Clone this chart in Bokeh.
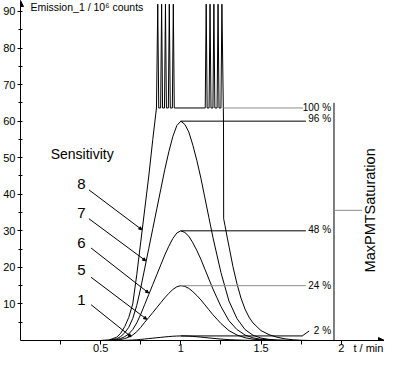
import math
from bokeh.plotting import figure
from bokeh.models import (Range1d, FixedTicker, CustomJSTickFormatter, Arrow,
                          NormalHead, ColumnDataSource)
from bokeh.core.properties import value
from bokeh.embed import file_html
from bokeh.resources import INLINE

FONT = "Liberation Sans"

# ---------------- data ----------------
t_grid = [0.50, 0.55, 0.60, 0.625, 0.65, 0.675, 0.70, 0.725, 0.75, 0.775,
          0.80, 0.825, 0.85, 0.875, 0.90, 0.925, 0.95, 0.975, 1.00, 1.025,
          1.05, 1.075, 1.10, 1.125, 1.15, 1.175, 1.20, 1.225, 1.25, 1.30,
          1.35, 1.40, 1.45, 1.50, 1.55, 1.60, 1.65, 1.70, 1.75, 1.80]

sens1 = [0, 0, 0.01, 0.02, 0.04, 0.08, 0.13, 0.2, 0.3, 0.41,
         0.53, 0.64, 0.75, 0.86, 0.98, 1.08, 1.16, 1.22, 1.25, 1.23,
         1.19, 1.12, 1.03, 0.93, 0.81, 0.7, 0.59, 0.49, 0.39, 0.23,
         0.13, 0.06, 0.03, 0.01, 0, 0, 0, 0, 0, 0]

sens5 = [0, 0.02, 0.12, 0.27, 0.53, 0.9, 1.5, 2.4, 3.6, 5.0,
         6.3, 7.65, 9.0, 10.35, 11.7, 12.9, 13.95, 14.7, 15.0, 14.8,
         14.25, 13.35, 12.3, 11.1, 9.75, 8.4, 7.05, 5.85, 4.65, 2.7,
         1.5, 0.75, 0.36, 0.17, 0.08, 0.03, 0.01, 0, 0, 0]

sens6 = [0, 0.03, 0.24, 0.54, 1.05, 1.8, 3.0, 4.8, 7.2, 9.9,
         12.6, 15.3, 18.0, 20.7, 23.4, 25.8, 27.9, 29.4, 30.0, 29.55,
         28.5, 26.7, 24.6, 22.2, 19.5, 16.8, 14.1, 11.7, 9.3, 5.4,
         3.0, 1.5, 0.72, 0.33, 0.15, 0.06, 0.03, 0, 0, 0]

sens7 = [0, 0.06, 0.48, 1.08, 2.1, 3.6, 6.0, 9.6, 14.4, 19.8,
         25.2, 30.6, 36.0, 41.4, 46.8, 51.6, 55.8, 58.8, 60.0, 59.1,
         57.0, 53.4, 49.2, 44.4, 39.0, 33.6, 28.2, 23.4, 18.6, 10.8,
         6.0, 3.0, 1.44, 0.66, 0.3, 0.12, 0.06, 0, 0, 0]

# sensitivity 8: saturates (PMT overflow oscillation, clipped plateau)
t8 = [0.50, 0.55, 0.60, 0.625, 0.65, 0.675, 0.70, 0.725, 0.75, 0.775, 0.80, 0.825, 0.848,
      0.856, 0.862, 0.874, 0.880, 0.886, 0.898, 0.904, 0.910, 0.922, 0.928, 0.934, 0.947, 0.953, 0.959,
      1.152, 1.158, 1.164, 1.176, 1.182, 1.188, 1.200, 1.206, 1.212, 1.226, 1.232, 1.238, 1.250, 1.256, 1.266, 1.267,
      1.275, 1.29, 1.30, 1.325, 1.35, 1.375, 1.40, 1.425, 1.45, 1.50, 1.55, 1.60, 1.65, 1.70, 1.75, 1.80]
sens8 = [0, 0.1, 0.9, 2.0, 3.8, 6.3, 10, 18, 27, 36, 45, 55, 63.6,
         92, 63.6, 63.6, 92, 63.6, 63.6, 92, 63.6, 63.6, 92, 63.6, 63.6, 92, 63.6,
         63.6, 92, 63.6, 63.6, 92, 63.6, 63.6, 92, 63.6, 63.6, 92, 63.6, 63.6, 92, 60, 33.3,
         31.5, 28, 25.8, 20.2, 15.5, 11.6, 8.6, 6.4, 4.8, 2.7, 1.6, 0.9, 0.45, 0.2, 0.08, 0]

for s in (sens1, sens5, sens6, sens7):
    assert len(s) == len(t_grid)
assert len(t8) == len(sens8)

# percentage reference lines
pct_labels = ["100 %", "96 %", "48 %", "24 %", "2 %"]
pct_xs = [[1.266, 1.763], [1.0, 1.78], [1.0, 1.78], [1.0, 1.78], [1.0, 1.757, 1.80]]
pct_ys = [[63.6, 63.6], [60.0, 60.0], [30.0, 30.0], [15.0, 15.0], [1.25, 1.25, 2.6]]
pct_colors = ["#8c8c8c", "black", "black", "#8c8c8c", "black"]
pct_label_t = [1.937, 1.937, 1.937, 1.937, 1.937]
pct_label_v = [63.8, 60.6, 30.3, 15.1, 2.6]

# sensitivity labels and leaders
sens_names = ["8", "7", "6", "5", "1"]
sens_label_t = [0.38, 0.38, 0.38, 0.38, 0.38]
sens_label_v = [42.8, 34.9, 26.8, 19.4, 11.1]
lead_t0 = [0.427, 0.427, 0.44, 0.44, 0.44]
lead_v0 = [41.2, 33.3, 25.3, 17.3, 9.8]
lead_t1 = [0.757, 0.781, 0.799, 0.787, 0.69]
lead_v1 = [30.3, 21.8, 13.0, 5.8, 1.0]

# saturation bracket
sat_t = 1.955
sat_v = [0.0, 65.0]
sat_tick_t = [1.955, 2.13]
sat_tick_v = 35.6

# x: labelled positions (last one carries the axis title) and tick marks
x_label_pos = [0.5, 1, 1.5, 2, 2.17]
x_tick_marks = [0.25, 0.5, 0.75, 1, 1.25, 1.5, 1.75, 2]
y_ticks = [10, 20, 30, 40, 50, 60, 70, 80, 90]
y_minor = [5, 15, 25, 35, 45, 55, 65, 75, 85]

# ---------------- figure ----------------
p = figure(width=384, height=356, output_backend="svg", toolbar_location=None,
           x_range=Range1d(0, 2.27), y_range=Range1d(0, 93),
           min_border=0, min_border_left=0, min_border_right=0,
           min_border_top=0, min_border_bottom=0)
p.outline_line_color = None
p.grid.visible = False
p.background_fill_color = "white"
p.border_fill_color = "white"

xa = p.xaxis[0]
xa.axis_label = None
xa.ticker = FixedTicker(ticks=x_label_pos, minor_ticks=x_tick_marks)
xa.formatter = CustomJSTickFormatter(code="return tick > 2.1 ? 't / min' : String(tick)")
xa.major_tick_out = 0
xa.major_tick_in = 0
xa.minor_tick_out = 4
xa.minor_tick_in = 0
xa.major_label_standoff = -3
ya = p.yaxis[0]
ya.axis_label = None
ya.ticker = FixedTicker(ticks=y_ticks, minor_ticks=y_minor)
ya.major_tick_out = 3
ya.major_tick_in = 2
ya.minor_tick_out = 2
ya.minor_tick_in = 2
ya.major_label_standoff = 2
for ax in (xa, ya):
    ax.axis_line_color = "black"
    ax.major_tick_line_color = "black"
    ax.minor_tick_line_color = "black"
    ax.major_label_text_font = FONT
    ax.major_label_text_font_size = "11px"
    ax.major_label_text_color = "black"

# curves
for s in (sens1, sens5, sens6, sens7):
    p.line(t_grid, s, line_color="black", line_width=1)
p.line(t8, sens8, line_color="black", line_width=1)

# percentage lines
p.multi_line(xs=pct_xs, ys=pct_ys, line_color=pct_colors, line_width=1)
p.text(x=pct_label_t, y=pct_label_v, text=pct_labels, text_font=value(FONT),
       text_font_size="10px", text_align="right", text_baseline="middle", text_color="black")

# saturation bracket
p.line([sat_t, sat_t], sat_v, line_color="black", line_width=1)
p.line(sat_tick_t, [sat_tick_v, sat_tick_v], line_color="#8c8c8c", line_width=1)
p.text(x=[2.178], y=[sat_tick_v], text=["MaxPMTSaturation"], angle=math.pi / 2,
       text_font=value(FONT), text_font_size="14.5px", text_align="center",
       text_baseline="middle", text_color="black")

# sensitivity labels & leaders
p.text(x=[0.188], y=[50.9], text=["Sensitivity"], text_font=value(FONT),
       text_font_size="14px", text_align="left", text_baseline="middle", text_color="black")
p.text(x=sens_label_t, y=sens_label_v, text=sens_names, text_font=value(FONT),
       text_font_size="15px", text_align="center", text_baseline="middle", text_color="black")
lead_src = ColumnDataSource(dict(x0=lead_t0, y0=lead_v0, x1=lead_t1, y1=lead_v1))
p.add_layout(Arrow(end=NormalHead(size=3, fill_color="black", line_color="black", line_width=1),
                   x_start="x0", y_start="y0", x_end="x1", y_end="y1",
                   source=lead_src, line_color="black", line_width=1))

# y axis title
p.text(x=[0.062], y=[93], text=["Emission_1 / 10\u2076 counts"], text_font=value(FONT),
       text_font_size="10.5px", text_align="left", text_baseline="top", text_color="black")

# axis arrow heads
p.add_layout(Arrow(end=NormalHead(size=6, fill_color="black", line_color="black"),
                   x_start=2.2, y_start=0, x_end=2.27, y_end=0, line_color="black"))
p.add_layout(Arrow(end=NormalHead(size=6, fill_color="black", line_color="black"),
                   x_start=0, y_start=88, x_end=0, y_end=93, line_color="black"))

open("out.html", "w").write(file_html(p, INLINE))
